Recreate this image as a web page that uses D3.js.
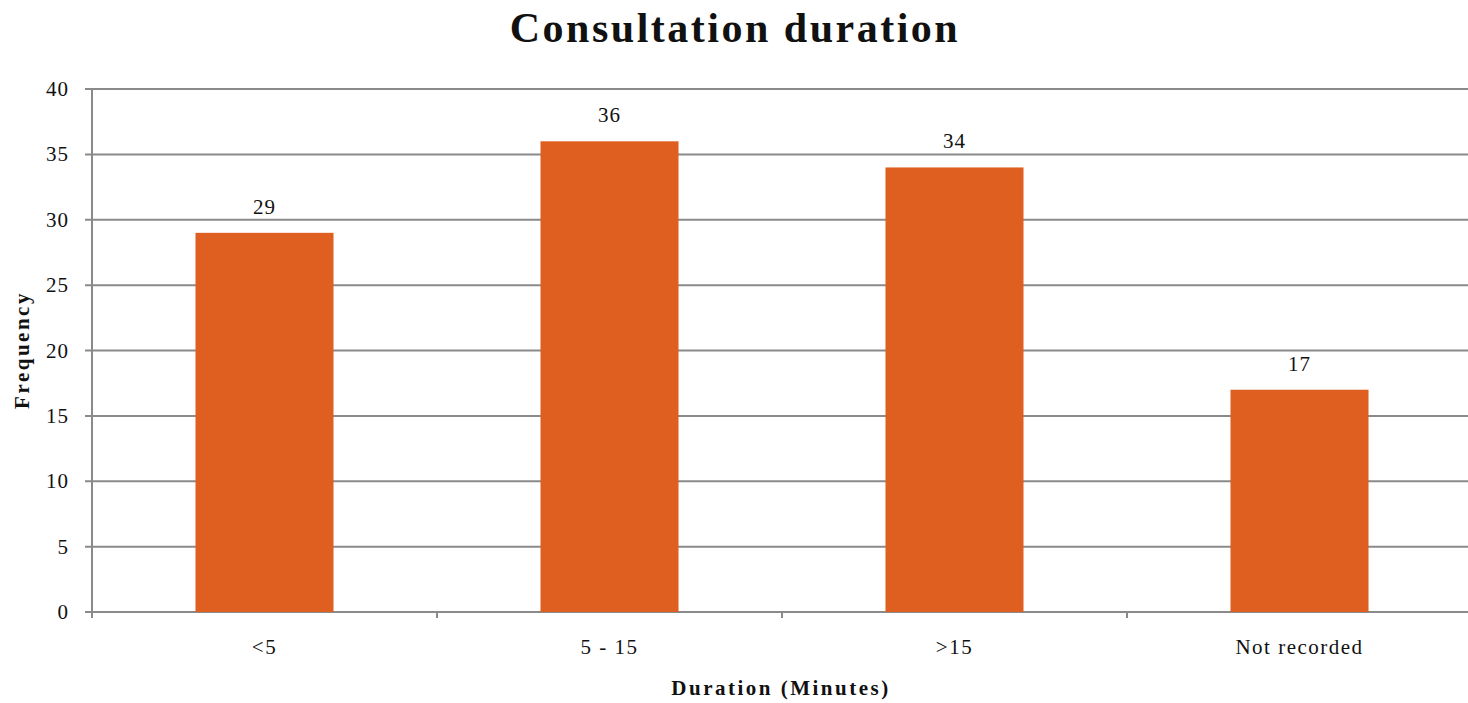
<!DOCTYPE html>
<html>
<head>
<meta charset="utf-8">
<script src="https://cdn.jsdelivr.net/npm/d3@7"></script>
<style>
  body { margin: 0; background: #fff; }
  text { font-family: "Liberation Serif", "Times New Roman", serif; fill: #111; }
</style>
</head>
<body>
<svg id="chart" width="1468" height="703"></svg>
<script>
// Chart data
const categories = ["<5", "5 - 15", ">15", "Not recorded"];
const frequencies = [29, 36, 34, 17];
const yTicks = [0, 5, 10, 15, 20, 25, 30, 35, 40];

const BAR_COLOR = "#DE5F1F";
const GRID_COLOR = "#8a8a8a";

const margin = { top: 89, right: -4, bottom: 91, left: 92 };
const width = 1468, height = 703;

const svg = d3.select("#chart");

const x = d3.scaleBand()
    .domain(categories)
    .range([margin.left, width - margin.right])
    .paddingInner(0.6)
    .paddingOuter(0.3);

const y = d3.scaleLinear()
    .domain([0, 40])
    .range([height - margin.bottom, margin.top]);

// gridlines
svg.append("g")
    .selectAll("line")
    .data(yTicks)
    .join("line")
    .attr("x1", margin.left - 7)
    .attr("x2", width)
    .attr("y1", d => y(d))
    .attr("y2", d => y(d))
    .attr("stroke", GRID_COLOR)
    .attr("stroke-width", 2);

// y axis line
svg.append("line")
    .attr("x1", margin.left).attr("x2", margin.left)
    .attr("y1", y(40)).attr("y2", y(0) + 6)
    .attr("stroke", GRID_COLOR)
    .attr("stroke-width", 2);

// x ticks at category boundaries
const step = x.step();
const boundaries = d3.range(categories.length + 1).map(i => margin.left + i * step);
svg.append("g")
    .selectAll("line")
    .data(boundaries)
    .join("line")
    .attr("x1", d => d).attr("x2", d => d)
    .attr("y1", y(0)).attr("y2", y(0) + 6)
    .attr("stroke", GRID_COLOR)
    .attr("stroke-width", 2);

// y tick labels
svg.append("g")
    .selectAll("text")
    .data(yTicks)
    .join("text")
    .attr("x", margin.left - 23)
    .attr("y", d => y(d) + 7)
    .attr("text-anchor", "end")
    .attr("font-size", 21)
    .attr("letter-spacing", 1)
    .text(d => d);

// bars
svg.append("g")
    .selectAll("rect")
    .data(frequencies)
    .join("rect")
    .attr("x", (d, i) => x(categories[i]))
    .attr("width", x.bandwidth())
    .attr("y", d => y(d))
    .attr("height", d => y(0) - y(d))
    .attr("fill", BAR_COLOR);

// value labels
svg.append("g")
    .selectAll("text")
    .data(frequencies)
    .join("text")
    .attr("x", (d, i) => x(categories[i]) + x.bandwidth() / 2)
    .attr("y", d => y(d) - 19)
    .attr("text-anchor", "middle")
    .attr("font-size", 21)
    .attr("letter-spacing", 1)
    .text(d => d);

// category labels
svg.append("g")
    .selectAll("text")
    .data(categories)
    .join("text")
    .attr("x", d => x(d) + x.bandwidth() / 2)
    .attr("y", 654)
    .attr("text-anchor", "middle")
    .attr("font-size", 21)
    .attr("letter-spacing", 1.5)
    .text(d => d);

// title
svg.append("text")
    .attr("x", 735)
    .attr("y", 42)
    .attr("text-anchor", "middle")
    .attr("font-size", 42)
    .attr("font-weight", "bold")
    .attr("letter-spacing", 2.5)
    .text("Consultation duration");

// axis titles
svg.append("text")
    .attr("x", 781)
    .attr("y", 695)
    .attr("text-anchor", "middle")
    .attr("font-size", 21)
    .attr("font-weight", "bold")
    .attr("letter-spacing", 2.5)
    .text("Duration (Minutes)");

svg.append("text")
    .attr("transform", "translate(29,350) rotate(-90)")
    .attr("text-anchor", "middle")
    .attr("font-size", 21)
    .attr("font-weight", "bold")
    .attr("letter-spacing", 2.5)
    .text("Frequency");
</script>
</body>
</html>
